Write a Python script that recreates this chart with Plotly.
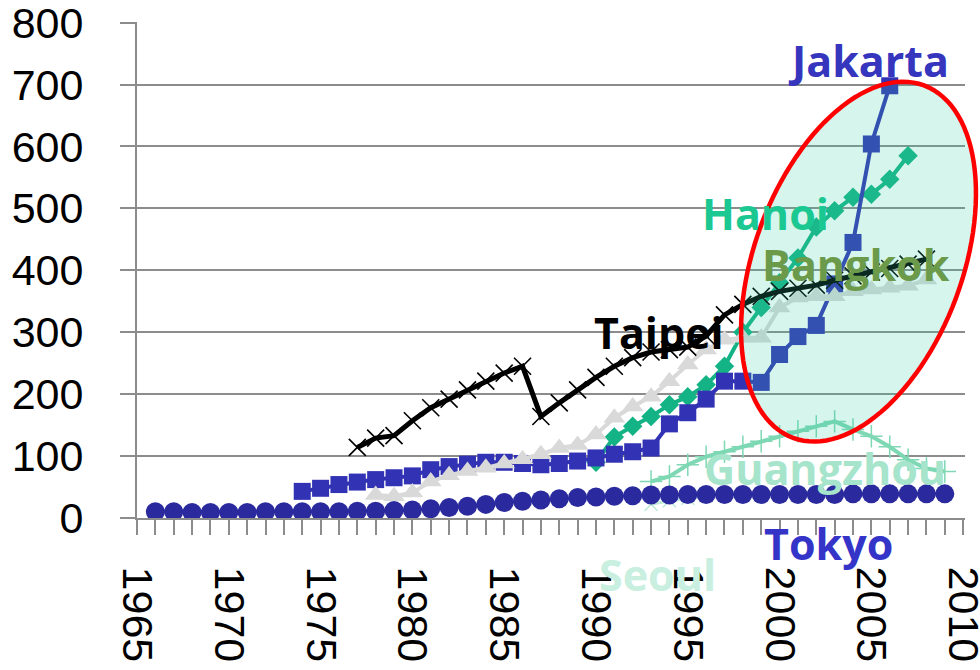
import numpy as np
import plotly.graph_objects as go

# ---------------- data ----------------
tokyo_years = list(range(1966, 2010))
tokyo_vals = [10, 10, 9, 9, 9, 9, 10, 10, 10, 10, 10, 11, 11, 12, 13, 15, 17, 19, 22, 25,
              27, 29, 31, 33, 34, 35, 36, 37, 37, 38, 38, 38, 38, 38, 38, 38, 38, 38, 39, 39,
              39, 39, 39, 39]

jakarta_years = list(range(1974, 2007))
jakarta_vals = [43, 48, 54, 58, 62, 65, 68, 78, 83, 87, 90, 90, 88, 86, 88, 92, 97, 103,
                107, 113, 152, 170, 192, 221, 221, 219, 264, 293, 311, 378, 445, 604, 698]

bangkok_years = list(range(1978, 2009))
bangkok_vals = [37, 35, 41, 59, 69, 76, 81, 88, 95, 103, 113, 118, 135, 162, 180, 196, 221,
                248, 272, 288, 291, 291, 340, 356, 358, 358, 366, 369, 372, 375, 385]

hanoi_years = list(range(1990, 2008))
hanoi_vals = [90, 131, 148, 164, 183, 196, 215, 245, 300, 340, 380, 420, 470, 496, 518, 523,
              547, 585]

taipei_years = list(range(1977, 2009))
taipei_vals = [114, 129, 133, 157, 178, 192, 207, 221, 234, 245, 164, 186, 207, 227, 245,
               259, 268, 272, 276, 294, 328, 345, 358, 366, 371, 376, 384, 391, 397, 403,
               410, 418]

guangzhou_years = list(range(1993, 2010))
guangzhou_vals = [59, 67, 86, 99, 107, 115, 124, 132, 140, 148, 156, 143, 132, 115, 94, 80, 75]

seoul_years = list(range(1993, 2010))
seoul_vals = [22, 28, 32, 36, 38, 38, 39, 39, 40, 40, 40, 40, 40, 40, 40, 40, 40]

x_tick_vals = list(range(1965, 2011, 5))
x_tick_text = [str(v) for v in x_tick_vals]
y_tick_vals = list(range(0, 801, 100))

# ---------------- figure ----------------
W, H = 980, 670
ML, MR, MT, MB = 137, 15, 22, 152
PW, PH = W - ML - MR, H - MT - MB
X0, X1 = 1965, 2010.1
Y0, Y1 = 0, 801

fig = go.Figure()

def add_series(xs, ys, color, symbol, size, lw, mline=None, mcolor=None):
    marker = dict(symbol=symbol, size=size, color=mcolor or color)
    if mline:
        marker["line"] = dict(color=mcolor or color, width=mline)
    fig.add_trace(go.Scatter(x=xs, y=ys, mode="lines+markers",
                             line=dict(color=color, width=lw),
                             marker=marker, showlegend=False, hoverinfo="skip"))

add_series(seoul_years, seoul_vals, "#BFEAD7", "x-thin", 13, 3, mline=1.5)
add_series(guangzhou_years, guangzhou_vals, "#7ED8B4", "cross-thin", 16, 4, mline=1.5)
add_series(tokyo_years, tokyo_vals, "#2A2A9E", "circle", 19, 3)
add_series(hanoi_years, hanoi_vals, "#14B386", "diamond", 15, 4)
add_series(jakarta_years, jakarta_vals, "#3232B4", "square", 17, 4)
add_series(bangkok_years, bangkok_vals, "#D9D9D9", "triangle-up", 19, 4)
add_series(taipei_years, taipei_vals, "#000000", "x-thin", 17, 5, mline=1.6)

# ---------------- highlight ellipse ----------------
ell_center = (2004.3, 414)      # (year, value)
ell_semi_px = (188, 104)         # semi-major, semi-minor in pixels
ell_tilt_deg = 20.4              # tilt of major axis from vertical (clockwise)

cx = (ell_center[0] - X0) / (X1 - X0)
cy = (ell_center[1] - Y0) / (Y1 - Y0)
phi = np.radians(ell_tilt_deg)
t = np.linspace(0, 2 * np.pi, 121)
a, b = ell_semi_px
dx = a * np.cos(t) * np.sin(phi) + b * np.sin(t) * np.cos(phi)
dy = a * np.cos(t) * np.cos(phi) - b * np.sin(t) * np.sin(phi)
px = cx + dx / PW
py = cy + dy / PH
path = "M " + " L ".join(f"{x:.5f},{y:.5f}" for x, y in zip(px, py)) + " Z"
fig.add_shape(type="path", path=path, xref="paper", yref="paper",
              fillcolor="rgba(50,205,160,0.2)", line=dict(color="#FF0000", width=4.5),
              layer="above")

# ---------------- labels ----------------
labels = [
    ("Jakarta", 868, 61, "#3535BD"),
    ("Hanoi", 765, 213, "#1CC892"),
    ("Bangkok", 856, 264, "#6A9A4A"),
    ("Taipei", 659, 332, "#000000"),
    ("Guangzhou", 825, 468, "#A6E4CB"),
    ("Seoul", 657, 574, "#C8EFDF"),
    ("Tokyo", 828, 543, "#3434C8"),
]
for txt, lx, ly, col in labels:
    fig.add_annotation(text=txt, xref="paper", yref="paper",
                       x=(lx - ML) / PW, y=(H - MB - ly) / PH,
                       xanchor="center", yanchor="middle", showarrow=False,
                       font=dict(family="Open Sans", size=43, color=col, weight="bold"))

axis_font = dict(family="Liberation Sans, Arial", size=43, color="#000000")
fig.update_layout(
    width=W, height=H,
    margin=dict(l=ML, r=MR, t=MT, b=MB, pad=0, autoexpand=False),
    plot_bgcolor="white", paper_bgcolor="white",
    xaxis=dict(range=[X0, X1], tickmode="array", tickvals=x_tick_vals, ticktext=x_tick_text,
               tickangle=90, tickfont=axis_font, showgrid=False, zeroline=False,
               showline=True, linecolor="#8C8C8C", linewidth=2, automargin=False,
               ticks="outside", ticklen=15, tickcolor="#8C8C8C", tickwidth=1.5,
               ticklabelstandoff=23, ticklabeloverflow="allow",
               minor=dict(dtick=1, tick0=1965, ticks="outside", ticklen=15,
                          tickcolor="#8C8C8C", tickwidth=1.5, showgrid=False)),
    yaxis=dict(range=[Y0, Y1], tickmode="array", tickvals=y_tick_vals, tickfont=axis_font,
               showgrid=True, gridcolor="#8C8C8C", gridwidth=1.5, zeroline=False,
               showline=True, linecolor="#8C8C8C", linewidth=2, automargin=False,
               ticks="outside", ticklen=15, tickcolor="#8C8C8C", tickwidth=1.5,
               ticklabelstandoff=28, ticklabeloverflow="allow"),
)

fig.write_html("out.html")
